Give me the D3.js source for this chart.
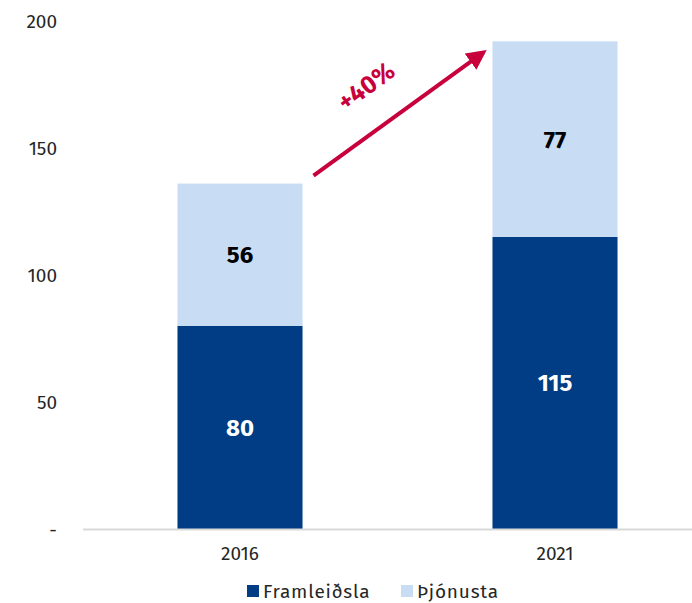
<!DOCTYPE html>
<html>
<head>
<meta charset="utf-8">
<script src="https://cdn.jsdelivr.net/npm/d3@7"></script>
<style>
  html, body { margin: 0; padding: 0; background: #fff; }
  svg { display: block; font-family: "Fira Sans", "Open Sans", "Noto Sans", sans-serif; }
</style>
</head>
<body>
<svg id="chart" width="692" height="603"></svg>
<script>
(function () {
  "use strict";

  // Data
  var years = ["2016", "2021"];
  var framleidsla = [80, 115];
  var thjonusta = [56, 77];
  var seriesNames = ["Framleiðsla", "Þjónusta"];
  var yTicks = [0, 50, 100, 150, 200];
  var growthLabel = "+40%";

  var C = { dark: "#003d84", light: "#c8ddf4", axis: "#d9d9d9", text: "#262626", arrow: "#c8003c" };

  var W = 692, H = 603;
  var svg = d3.select("#chart");

  var x = d3.scaleBand().domain(years).range([82.5, 712.5]).paddingInner(0.603).paddingOuter(0.3015);
  var y = d3.scaleLinear().domain([0, 200]).range([529, 21]);

  var rows = years.map(function (yr, i) { return { year: yr, Framleiðsla: framleidsla[i], Þjónusta: thjonusta[i] }; });
  var stack = d3.stack().keys(seriesNames)(rows);
  var colors = { "Framleiðsla": C.dark, "Þjónusta": C.light };
  var labelColors = { "Framleiðsla": "#fff", "Þjónusta": "#000" };

  // y axis labels (no line, no ticks)
  svg.append("g").selectAll("text").data(yTicks).join("text")
    .attr("x", 57).attr("y", function (d) { return y(d); })
    .attr("dy", "0.35em").attr("text-anchor", "end")
    .attr("font-size", 19).attr("fill", C.text)
    .text(function (d) { return d === 0 ? "-" : d; });

  // bars
  stack.forEach(function (s) {
    var g = svg.append("g");
    g.selectAll("rect").data(s).join("rect")
      .attr("x", function (d) { return x(d.data.year); })
      .attr("width", x.bandwidth())
      .attr("y", function (d) { return y(d[1]); })
      .attr("height", function (d) { return y(d[0]) - y(d[1]); })
      .attr("fill", colors[s.key]);
    g.selectAll("text").data(s).join("text")
      .attr("x", function (d) { return x(d.data.year) + x.bandwidth() / 2; })
      .attr("y", function (d) { return (y(d[0]) + y(d[1])) / 2; })
      .attr("dy", "0.35em").attr("text-anchor", "middle")
      .attr("font-size", 24).attr("font-weight", "bold")
      .attr("fill", labelColors[s.key])
      .text(function (d) { return d[1] - d[0]; });
  });

  // x axis baseline
  svg.append("line")
    .attr("x1", 83).attr("x2", W).attr("y1", y(0) + 0.5).attr("y2", y(0) + 0.5)
    .attr("stroke", C.axis).attr("stroke-width", 2);

  // x labels
  svg.append("g").selectAll("text").data(years).join("text")
    .attr("x", function (d) { return x(d) + x.bandwidth() / 2; })
    .attr("y", 560).attr("text-anchor", "middle")
    .attr("font-size", 19).attr("fill", C.text)
    .text(function (d) { return d; });

  // growth arrow
  var tot0 = framleidsla[0] + thjonusta[0], tot1 = framleidsla[1] + thjonusta[1];
  var x0 = x(years[0]) + x.bandwidth() + 11, y0 = y(tot0) - 8;
  var x1 = x(years[1]) - 9, y1 = y(tot1) + 11;
  svg.append("defs").append("marker")
    .attr("id", "ah").attr("viewBox", "0 0 10 10").attr("refX", 8).attr("refY", 5)
    .attr("markerWidth", 5).attr("markerHeight", 5).attr("orient", "auto")
    .attr("markerUnits", "strokeWidth")
    .append("path").attr("d", "M0,0L10,5L0,10z").attr("fill", C.arrow);
  svg.append("line")
    .attr("x1", x0).attr("y1", y0).attr("x2", x1).attr("y2", y1)
    .attr("stroke", C.arrow).attr("stroke-width", 4)
    .attr("marker-end", "url(#ah)");
  var ang = Math.atan2(y1 - y0, x1 - x0) * 180 / Math.PI;
  svg.append("text")
    .attr("transform", "translate(366,86) rotate(" + ang + ")")
    .attr("text-anchor", "middle").attr("dy", "0.35em")
    .attr("font-size", 25).attr("font-weight", "bold").attr("fill", C.arrow)
    .text(growthLabel);

  // legend
  var leg = svg.append("g").selectAll("g").data(seriesNames).join("g")
    .attr("transform", function (d, i) { return "translate(" + (247 + i * 154) + ",585)"; });
  leg.append("rect").attr("width", 12).attr("height", 12)
    .attr("fill", function (d) { return colors[d]; });
  leg.append("text").attr("x", 16).attr("y", 6).attr("dy", "0.35em")
    .attr("font-size", 19).attr("letter-spacing", 0.8).attr("fill", C.text)
    .text(function (d) { return d; });
})();
</script>
</body>
</html>
